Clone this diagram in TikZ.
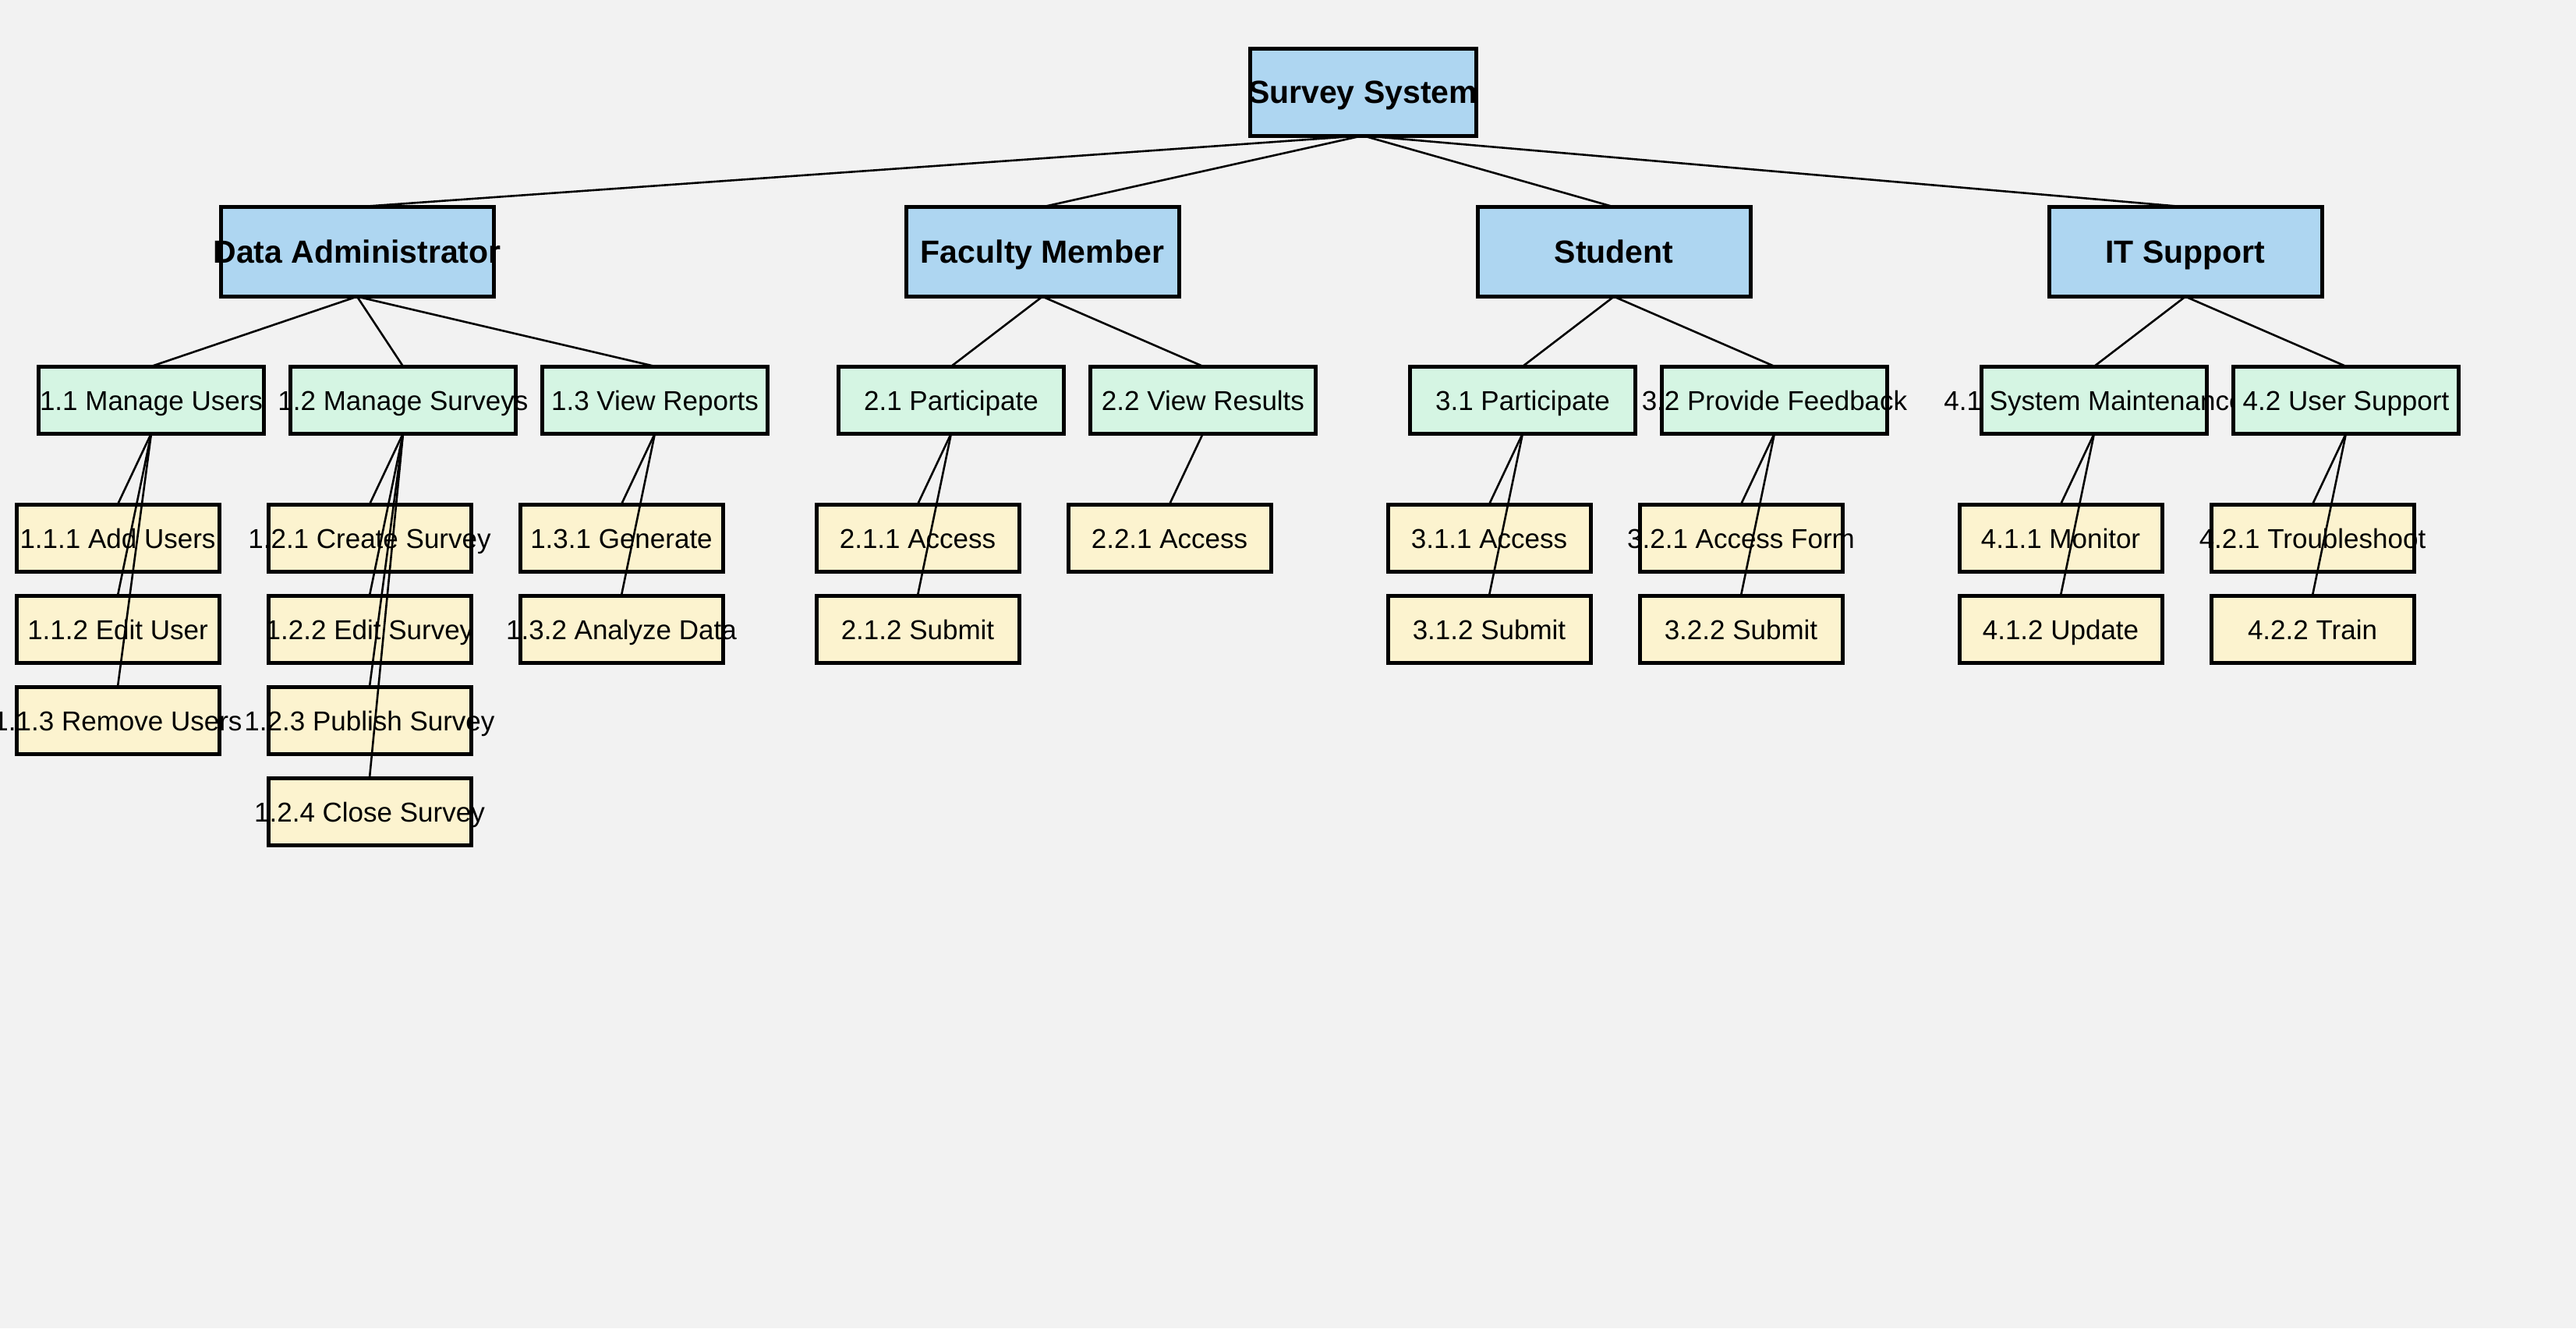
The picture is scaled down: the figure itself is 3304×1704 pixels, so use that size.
\documentclass[tikz,border=0pt]{standalone}
\usepackage{fontspec}
\setmainfont{Liberation Sans}
\definecolor{bg}{HTML}{F2F2F2}
\definecolor{cA}{HTML}{AED6F1}
\definecolor{cB}{HTML}{D5F5E3}
\definecolor{cC}{HTML}{FCF3CF}
\tikzset{
 shp/.style={rectangle, inner sep=0pt, outer sep=0pt},
 b0/.style={shp, fill=cA, minimum width=145pt, minimum height=56pt},
 b1/.style={shp, fill=cA, minimum width=175pt, minimum height=57.5pt},
 b2/.style={shp, fill=cB, minimum width=144.5pt, minimum height=43pt},
 b3/.style={shp, fill=cC, minimum width=130pt, minimum height=43pt},
 tb/.style={inner sep=0pt, anchor=base, yshift=-7.3pt, font=\bfseries\fontsize{20.5}{24}\selectfont},
 tr/.style={inner sep=0pt, anchor=base, yshift=-6.8pt, font=\fontsize{17.5}{21}\selectfont},
 bord/.style={draw=black, line width=2.5pt},
 edge/.style={draw=black, line width=1.3pt},
}
\newcommand\bxn[6]{%
 \node[#2] (#1) at (#3,#4) {};
 \node[#5] (#1t) at (#1.center) {#6};
 \draw[bord] (#1.south west) rectangle (#1.north east);
}
\begin{document}
\begin{tikzpicture}[x=0.5pt, y=-0.5pt]
\useasboundingbox (0,0) rectangle (3304,1704);
\fill[bg] (0,0) rectangle (3304,1704);
% level 0
\bxn{root}{b0}{1748}{118}{tb}{Survey System}
% level 1
\bxn{da}{b1}{458}{323}{tb}{Data Administrator}
\bxn{fm}{b1}{1337}{323}{tb}{Faculty Member}
\bxn{st}{b1}{2070}{323}{tb}{Student}
\bxn{it}{b1}{2803}{323}{tb}{IT Support}
% level 2
\bxn{a1}{b2}{194}{513}{tr}{1.1 Manage Users}
\bxn{a2}{b2}{517}{513}{tr}{1.2 Manage Surveys}
\bxn{a3}{b2}{840}{513}{tr}{1.3 View Reports}
\bxn{f1}{b2}{1220}{513}{tr}{2.1 Participate}
\bxn{f2}{b2}{1543}{513}{tr}{2.2 View Results}
\bxn{s1}{b2}{1953}{513}{tr}{3.1 Participate}
\bxn{s2}{b2}{2276}{513}{tr}{3.2 Provide Feedback}
\bxn{i1}{b2}{2686}{513}{tr}{4.1 System Maintenance}
\bxn{i2}{b2}{3009}{513}{tr}{4.2 User Support}
% level 3
\bxn{a11}{b3}{151}{690}{tr}{1.1.1 Add Users}
\bxn{a12}{b3}{151}{807}{tr}{1.1.2 Edit User}
\bxn{a13}{b3}{151}{924}{tr}{1.1.3 Remove Users}
\bxn{a21}{b3}{474}{690}{tr}{1.2.1 Create Survey}
\bxn{a22}{b3}{474}{807}{tr}{1.2.2 Edit Survey}
\bxn{a23}{b3}{474}{924}{tr}{1.2.3 Publish Survey}
\bxn{a24}{b3}{474}{1041}{tr}{1.2.4 Close Survey}
\bxn{a31}{b3}{797}{690}{tr}{1.3.1 Generate}
\bxn{a32}{b3}{797}{807}{tr}{1.3.2 Analyze Data}
\bxn{f11}{b3}{1177}{690}{tr}{2.1.1 Access}
\bxn{f12}{b3}{1177}{807}{tr}{2.1.2 Submit}
\bxn{f21}{b3}{1500}{690}{tr}{2.2.1 Access}
\bxn{s11}{b3}{1910}{690}{tr}{3.1.1 Access}
\bxn{s12}{b3}{1910}{807}{tr}{3.1.2 Submit}
\bxn{s21}{b3}{2233}{690}{tr}{3.2.1 Access Form}
\bxn{s22}{b3}{2233}{807}{tr}{3.2.2 Submit}
\bxn{i11}{b3}{2643}{690}{tr}{4.1.1 Monitor}
\bxn{i12}{b3}{2643}{807}{tr}{4.1.2 Update}
\bxn{i21}{b3}{2966}{690}{tr}{4.2.1 Troubleshoot}
\bxn{i22}{b3}{2966}{807}{tr}{4.2.2 Train}
% connectors
\foreach \c in {da,fm,st,it} \draw[edge] (root.south) -- (\c.north);
\foreach \c in {a1,a2,a3} \draw[edge] (da.south) -- (\c.north);
\foreach \c in {f1,f2} \draw[edge] (fm.south) -- (\c.north);
\foreach \c in {s1,s2} \draw[edge] (st.south) -- (\c.north);
\foreach \c in {i1,i2} \draw[edge] (it.south) -- (\c.north);
\foreach \c in {a11,a12,a13} \draw[edge] (a1.south) -- (\c.north);
\foreach \c in {a21,a22,a23,a24} \draw[edge] (a2.south) -- (\c.north);
\foreach \c in {a31,a32} \draw[edge] (a3.south) -- (\c.north);
\foreach \c in {f11,f12} \draw[edge] (f1.south) -- (\c.north);
\draw[edge] (f2.south) -- (f21.north);
\foreach \c in {s11,s12} \draw[edge] (s1.south) -- (\c.north);
\foreach \c in {s21,s22} \draw[edge] (s2.south) -- (\c.north);
\foreach \c in {i11,i12} \draw[edge] (i1.south) -- (\c.north);
\foreach \c in {i21,i22} \draw[edge] (i2.south) -- (\c.north);
\end{tikzpicture}
\end{document}
